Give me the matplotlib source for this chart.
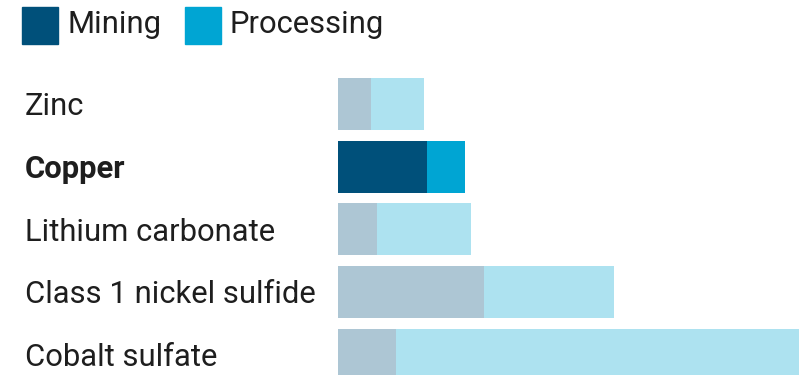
import matplotlib.pyplot as plt
from matplotlib.patches import Rectangle

plt.rcParams['font.family'] = ['Roboto', 'DejaVu Sans']

categories = ["Zinc", "Copper", "Lithium carbonate", "Class 1 nickel sulfide", "Cobalt sulfate"]
mining = [3.3, 8.9, 3.9, 14.6, 5.8]
processing = [5.3, 3.8, 9.4, 13.0, 40.3]
highlight = "Copper"

MINING_COLOR = "#00507a"
PROCESSING_COLOR = "#00a5d3"
TEXT_COLOR = "#1e1e1e"
FADE = 0.32

W, H = 807, 375
fig = plt.figure(figsize=(W / 100, H / 100), dpi=100)

# bar area: starts at x=338px, ends at the right edge
ax = fig.add_axes([338 / W, 0, 1 - 338 / W, 1 - 72 / H])
ax.set_xlim(0, (W - 338) / 10)
ax.set_ylim(4.32, -0.51)
ax.axis("off")

ypos = list(range(len(categories)))
for i, name in enumerate(categories):
    a = 1.0 if name == highlight else FADE
    ax.barh(ypos[i], mining[i], height=0.83, color=MINING_COLOR, alpha=a,
            linewidth=0)
    ax.barh(ypos[i], processing[i], left=mining[i], height=0.83,
            color=PROCESSING_COLOR, alpha=a, linewidth=0)
    ax.text(-313 / 10, ypos[i] + 0.18, name, ha="left", va="baseline",
            fontsize=22.3, color=TEXT_COLOR, clip_on=False,
            fontweight="bold" if name == highlight else "normal")

# legend
for x0, label, color in [(22, "Mining", MINING_COLOR), (185, "Processing", PROCESSING_COLOR)]:
    fig.patches.append(Rectangle((x0 / W, 1 - 44 / H), 36 / W, 37 / H,
                                 transform=fig.transFigure, color=color))
    fig.text((x0 + 45) / W, 1 - 33 / H, label, ha="left", va="baseline",
             fontsize=22.3, color=TEXT_COLOR)

fig.savefig("out.png", dpi=100)
